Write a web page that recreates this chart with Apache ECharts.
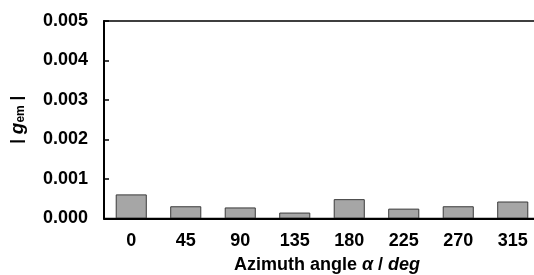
<!DOCTYPE html>
<html><head><meta charset="utf-8">
<script src="https://cdn.jsdelivr.net/npm/echarts@6/dist/echarts.min.js"></script>
<style>html,body{margin:0;padding:0;background:#fff}#c{width:534px;height:275px}</style>
</head><body><div id="c"></div>
<script>
var categories = ['0','45','90','135','180','225','270','315'];
var values = [0.00061, 0.00031, 0.00028, 0.00015, 0.00049, 0.00025, 0.00031, 0.00043];
var yTicks = [0, 0.001, 0.002, 0.003, 0.004, 0.005];

var FONT = 'Liberation Sans, Arial, sans-serif';
var chart = echarts.init(document.getElementById('c'), null, {renderer:'canvas'});
chart.setOption({
  animation:false,
  grid:{left:104, top:21, right:-6, bottom:56.5, containLabel:false, outerBoundsMode:'none',
    show:true, borderColor:'#000', borderWidth:1.5, backgroundColor:'transparent'},
  xAxis:{
    type:'category', data:categories, z:10,
    axisLine:{lineStyle:{color:'#000', width:2}},
    axisTick:{inside:true, alignWithLabel:true, length:5, lineStyle:{color:'#000', width:1.5}},
    axisLabel:{color:'#000', fontWeight:'bold', fontFamily:FONT, fontSize:18, margin:14},
    name:'{n|Azimuth angle }{i|α}{n| / }{i|deg}',
    nameLocation:'middle', nameGap:38,
    nameTextStyle:{padding:[0,0,0,10], rich:{
      n:{fontWeight:'bold', fontFamily:FONT, fontSize:18, color:'#000'},
      i:{fontWeight:'bold', fontStyle:'italic', fontFamily:FONT, fontSize:18, color:'#000'}
    }}
  },
  yAxis:{
    type:'value', min:0, max:yTicks[yTicks.length-1], interval:0.001,
    axisLine:{show:true, lineStyle:{color:'#000', width:2}},
    axisTick:{show:true, inside:true, length:5, lineStyle:{color:'#000', width:1.5}},
    splitLine:{show:false},
    axisLabel:{color:'#000', fontWeight:'bold', fontFamily:FONT, fontSize:18, margin:16,
      formatter:function(v){return v.toFixed(3);}},
    name:'{n|| }{g|g}{s|em}{n| |}',
    nameLocation:'middle', nameRotate:90, nameGap:77,
    nameTextStyle:{rich:{
      n:{fontWeight:'bold', fontFamily:FONT, fontSize:17, color:'#000'},
      g:{fontWeight:'bold', fontStyle:'italic', fontFamily:FONT, fontSize:19, color:'#000'},
      s:{fontWeight:'bold', fontFamily:FONT, fontSize:12, color:'#000', padding:[7,0,0,0]}
    }}
  },
  series:[{
    type:'bar', data:values, barCategoryGap:'43%',
    itemStyle:{color:'#a6a6a6', borderColor:'#3a3a3a', borderWidth:1}
  }]
});
</script></body></html>
